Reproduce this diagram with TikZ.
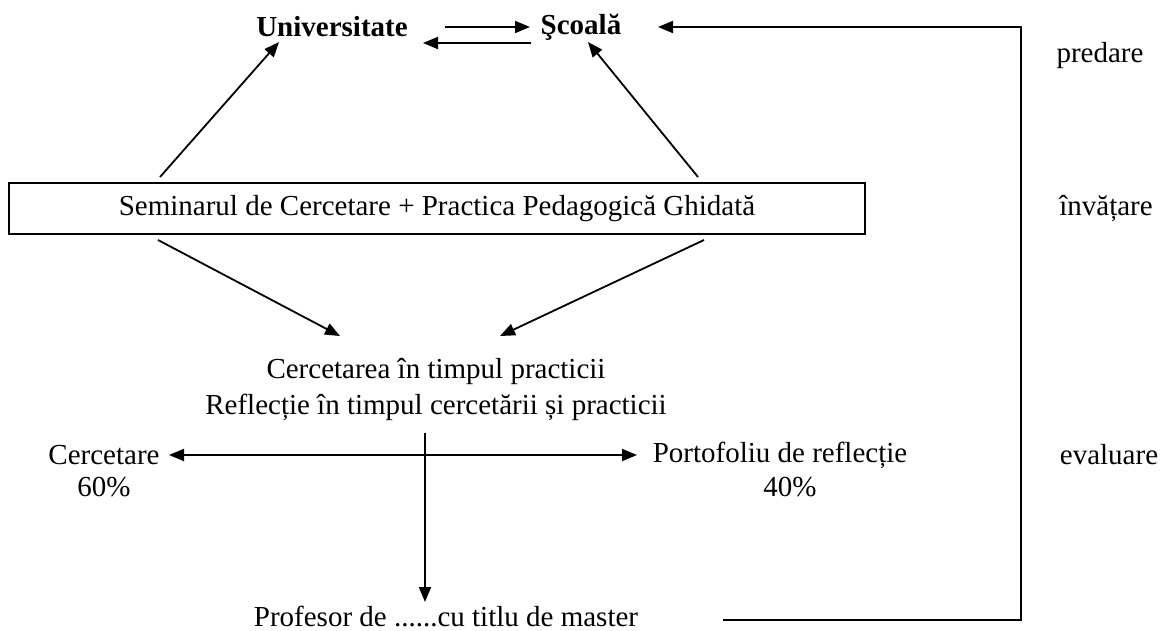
\documentclass[tikz,border=0pt]{standalone}
\usepackage{fontspec}
\setmainfont{Liberation Serif}
\usetikzlibrary{arrows.meta}
\begin{document}
\begin{tikzpicture}[x=1pt,y=-1pt,
  fnt/.style={font=\fontsize{29}{36}\selectfont},
  txt/.style={inner sep=0pt,fnt},
  conn/.style={line width=1.8pt},
  tip/.tip={Triangle[length=15pt,width=12pt]},
  arr/.style={conn,-tip},
  darr/.style={conn,tip-tip}]
\useasboundingbox (0,0) rectangle (1161,631);
\node[txt,font=\fontsize{29}{30}\selectfont\bfseries] (univ) at (332,27) {Universitate};
\node[txt,font=\fontsize{29}{30}\selectfont\bfseries] (scoala) at (581,27) {Şcoală};
\node[txt] (predare) at (1100,56) {predare};
\node[draw,line width=1.8pt,minimum width=856pt,minimum height=51pt,inner sep=0pt,fnt] (box) at (437,208.5) {Seminarul de Cercetare + Practica Pedagogică Ghidată};
\node[txt] (invatare) at (1106,208) {învățare};
\node[txt,align=center] (cerc) at (436,389) {Cercetarea în timpul practicii\\Reflecție în timpul cercetării și practicii};
\node[txt] (cercet) at (104,455) {Cercetare};
\node[txt] (p60) at (104,487) {60\%};
\node[txt] (port) at (780,455) {Portofoliu de reflecție};
\node[txt] (p40) at (790,487) {40\%};
\node[txt] (evaluare) at (1109,455) {evaluare};
\node[txt] (prof) at (446,616) {Profesor de ......cu titlu de master};
% coordinates
\coordinate (u1) at (445,27); \coordinate (u2) at (530,27);
\coordinate (s1) at (531,43); \coordinate (s2) at (423,43);
\coordinate (b1) at (160,177); \coordinate (ut) at (279,42);
\coordinate (b2) at (698,177); \coordinate (st) at (588,42);
\coordinate (b3) at (158,240); \coordinate (c1) at (340,336);
\coordinate (b4) at (704,240); \coordinate (c2) at (500,336);
\coordinate (v1) at (425,433); \coordinate (v2) at (425,602);
\coordinate (hl) at (169,455); \coordinate (hr) at (637,455);
\coordinate (r1) at (723,620); \coordinate (r2) at (1021,620); \coordinate (r3) at (1021,27); \coordinate (r4) at (658,27);
\draw[arr] (u1) -- (u2);
\draw[arr] (s1) -- (s2);
\draw[arr] (b1) -- (ut);
\draw[arr] (b2) -- (st);
\draw[arr] (b3) -- (c1);
\draw[arr] (b4) -- (c2);
\draw[darr] (hl) -- (hr);
\draw[arr] (v1) -- (v2);
\draw[arr] (r1) -- (r2) -- (r3) -- (r4);
\end{tikzpicture}
\end{document}
